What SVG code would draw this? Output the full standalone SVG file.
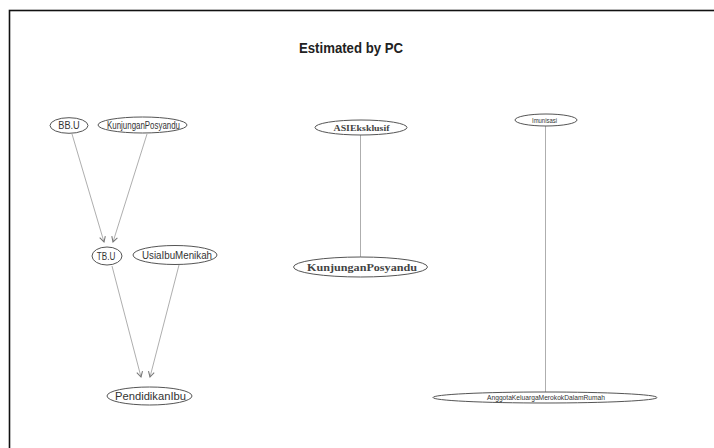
<svg xmlns="http://www.w3.org/2000/svg" width="714" height="448" viewBox="0 0 714 448">
  <defs>
    <marker id="arr" markerUnits="userSpaceOnUse" markerWidth="8" markerHeight="8" refX="4" refY="0" viewBox="-1 -3 6 6" orient="auto">
      <path d="M0,-2.2 L4,0 L0,2.2" fill="none" stroke="#777" stroke-width="0.8"/>
    </marker>
    <style>
      .node ellipse { fill: #fff; stroke: #555; stroke-width: 1; }
      .sans { font-family: "Liberation Sans", Arial, sans-serif; fill: #333; text-anchor: middle; }
      .serif { font-family: "Liberation Serif", "Times New Roman", serif; font-weight: bold; fill: #444; text-anchor: middle; }
      .edge { stroke: #999; stroke-width: 0.8; fill: none; }
      .title { font-family: "Liberation Sans", Arial, sans-serif; font-weight: bold; font-size: 14px; fill: #222; text-anchor: middle; }
    </style>
  </defs>
  <rect x="0" y="0" width="714" height="448" fill="#fff"/>
  <rect x="9.5" y="10.5" width="720" height="460" fill="none" stroke="#111" stroke-width="1.6"/>
  <text class="title" x="351" y="53" textLength="104" lengthAdjust="spacingAndGlyphs">Estimated by PC</text>

  <g id="connectors">
    <path class="edge" d="M72,134 L104,242" marker-end="url(#arr)"/>
    <path class="edge" d="M147,134 L113,242" marker-end="url(#arr)"/>
    <path class="edge" d="M112,266 L141,377" marker-end="url(#arr)"/>
    <path class="edge" d="M179,265 L150,377" marker-end="url(#arr)"/>
    <path class="edge" d="M360.5,135 L360.5,257"/>
    <path class="edge" d="M545.5,126 L545.5,392"/>
  </g>

  <g id="node-BBU" class="node">
    <ellipse cx="69" cy="125.5" rx="19" ry="7.8"/>
    <text class="sans" x="69" y="129.2" font-size="10.5" textLength="21.5" lengthAdjust="spacingAndGlyphs">BB.U</text>
  </g>
  <g id="node-KunjunganPosyandu1" class="node">
    <ellipse cx="142.5" cy="125" rx="44.5" ry="8"/>
    <text class="sans" x="143.5" y="128.7" font-size="10.5" textLength="73" lengthAdjust="spacingAndGlyphs">KunjunganPosyandu</text>
  </g>
  <g id="node-TBU" class="node">
    <ellipse cx="107" cy="256" rx="15" ry="9"/>
    <text class="sans" x="106" y="259.7" font-size="10.5" textLength="18.5" lengthAdjust="spacingAndGlyphs">TB.U</text>
  </g>
  <g id="node-UsiaIbuMenikah" class="node">
    <ellipse cx="175" cy="255" rx="42" ry="9.5"/>
    <text class="sans" x="177" y="258.7" font-size="10.5" textLength="70" lengthAdjust="spacingAndGlyphs">UsiaIbuMenikah</text>
  </g>
  <g id="node-PendidikanIbu" class="node">
    <ellipse cx="149.5" cy="396" rx="42.5" ry="9"/>
    <text class="sans" x="150.5" y="399.7" font-size="10.5" textLength="71" lengthAdjust="spacingAndGlyphs">PendidikanIbu</text>
  </g>
  <g id="node-ASIEksklusif" class="node">
    <ellipse cx="361" cy="127.5" rx="46" ry="7.5"/>
    <text class="serif" x="361.5" y="130.5" font-size="8.5" textLength="56" lengthAdjust="spacingAndGlyphs">ASIEksklusif</text>
  </g>
  <g id="node-KunjunganPosyandu2" class="node">
    <ellipse cx="360.5" cy="267" rx="67" ry="10"/>
    <text class="serif" x="362" y="270.5" font-size="10" textLength="110" lengthAdjust="spacingAndGlyphs">KunjunganPosyandu</text>
  </g>
  <g id="node-Imunisasi" class="node">
    <ellipse cx="546" cy="120" rx="31" ry="6"/>
    <text class="sans" x="544.5" y="122.8" font-size="8" textLength="25" lengthAdjust="spacingAndGlyphs">Imunisasi</text>
  </g>
  <g id="node-AnggotaKeluargaMerokokDalamRumah" class="node">
    <ellipse cx="545" cy="397.5" rx="112" ry="5.5"/>
    <text class="sans" x="546" y="400.4" font-size="8" textLength="118" lengthAdjust="spacingAndGlyphs">AnggotaKeluargaMerokokDalamRumah</text>
  </g>
</svg>
